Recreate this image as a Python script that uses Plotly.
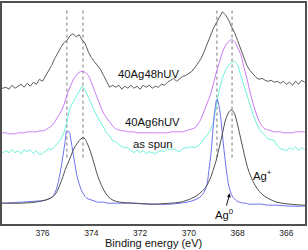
import plotly.graph_objects as go

# ---------------- data ----------------
energy_grid = [377.75, 377.625, 377.5, 377.375, 377.25, 377.125, 377.0, 376.875, 376.75, 376.625,
               376.5, 376.375, 376.25, 376.125, 376.0, 375.875, 375.75, 375.625, 375.5, 375.375,
               375.25, 375.125, 375.0, 374.875, 374.75, 374.625, 374.5, 374.375, 374.25, 374.125,
               374.0, 373.875, 373.75, 373.625, 373.5, 373.375, 373.25, 373.125, 373.0, 372.875,
               372.75, 372.625, 372.5, 372.375, 372.25, 372.125, 372.0, 371.875, 371.75, 371.625,
               371.5, 371.375, 371.25, 371.125, 371.0, 370.875, 370.75, 370.625, 370.5, 370.375,
               370.25, 370.125, 370.0, 369.875, 369.75, 369.625, 369.5, 369.375, 369.25, 369.125,
               369.0, 368.875, 368.75, 368.625, 368.5, 368.375, 368.25, 368.125, 368.0, 367.875,
               367.75, 367.625, 367.5, 367.375, 367.25, 367.125, 367.0, 366.875, 366.75, 366.625,
               366.5, 366.375, 366.25, 366.125, 366.0, 365.875, 365.75, 365.625, 365.5, 365.375,
               365.25]

uv48h = [137, 137, 138, 136, 140, 137, 139, 141, 138, 142, 139,
         143, 141, 146, 144, 149, 154, 160, 167, 173, 178,
         183, 185, 190, 192, 189, 191, 186, 182, 174, 168,
         164, 160, 156, 150, 144, 138, 140, 138, 140, 136,
         139, 137, 140, 137, 139, 136, 140, 138, 140, 137,
         139, 138, 141, 140, 143, 145, 147, 144, 147, 149,
         150, 152, 154, 158, 163, 167, 174, 182, 189, 197,
         203, 209, 214, 211, 206, 199, 193, 185, 177, 168,
         160, 155, 151, 148, 146, 147, 145, 144, 145, 143,
         144, 142, 144, 141, 143, 140, 144, 141, 145, 143]

uv6h = [92, 92, 92, 91, 91, 91, 92, 92, 92, 93, 93,
        93, 93, 94, 94, 95, 97, 99, 103, 108, 113,
        120, 130, 138, 145, 150, 153, 154, 153, 150, 143,
        135, 127, 119, 112, 107, 103, 99, 96, 95, 94,
        94, 93, 93, 93, 92, 92, 92, 92, 92, 92,
        92, 92, 92, 92, 92, 93, 93, 93, 93, 93,
        94, 95, 96, 97, 101, 106, 114, 122, 130, 141,
        153, 163, 173, 180, 184, 186, 184, 178, 171, 159,
        147, 134, 122, 112, 104, 99, 96, 95, 94, 93,
        93, 93, 92, 92, 92, 92, 93, 93, 93, 93]

as_spun = [72, 72, 74, 72, 75, 72, 74, 71, 75, 73, 75,
           71, 74, 70, 71, 74, 76, 75, 78, 81, 85,
           92, 103, 117, 123, 129, 134, 139, 135, 128, 121,
           114, 108, 103, 98, 92, 89, 84, 83, 80, 78,
           77, 77, 74, 72, 75, 72, 74, 71, 73, 72,
           71, 73, 74, 73, 76, 75, 76, 74, 73, 76,
           77, 77, 78, 77, 79, 82, 86, 90, 94, 102,
           120, 136, 147, 155, 160, 163, 164, 161, 150, 140,
           131, 121, 111, 103, 96, 92, 89, 86, 85, 84,
           79, 76, 75, 74, 77, 75, 78, 74, 77, 75]

energy_ref = [377.78, 377.66, 376.92, 376.31, 375.90, 375.61, 375.45, 375.28, 375.16, 375.08, 375.00,
              374.91, 374.83, 374.75, 374.67, 374.59, 374.50, 374.42, 374.34, 374.26, 374.18,
              374.09, 373.97, 373.85, 373.73, 373.60, 373.48, 373.32, 373.11, 372.82, 372.29,
              371.47, 370.77, 370.36, 370.08, 369.79, 369.55, 369.38, 369.26, 369.18, 369.09,
              369.01, 368.93, 368.85, 368.77, 368.68, 368.60, 368.52, 368.44, 368.36, 368.27,
              368.19, 368.11, 368.03, 367.91, 367.78, 367.66, 367.54, 367.37, 367.21, 367.00,
              366.76, 366.39, 365.86, 365.24, 365.10]

ag_plus = [21, 21, 21, 22, 24, 27, 31, 40, 48, 54, 59,
           64, 69, 74, 78, 81, 84, 86, 87, 86, 82,
           77, 68, 58, 48, 40, 34, 28, 24, 22, 21,
           20, 21, 22, 24, 27, 31, 35, 39, 43, 48,
           54, 60, 67, 76, 85, 94, 103, 109, 113, 115,
           114, 110, 103, 90, 76, 63, 53, 43, 36, 30,
           26, 22, 20, 19, 19]

ag_zero = [21, 21, 22, 23, 24, 27, 34, 51, 69, 82, 94,
           93, 84, 72, 60, 49, 41, 35, 31, 28, 26,
           25, 24, 23, 22, 22, 22, 21, 21, 21, 21,
           20, 20, 21, 22, 24, 27, 32, 40, 54, 72,
           96, 116, 126, 120, 104, 84, 66, 50, 38, 31,
           27, 25, 23, 22, 21, 21, 20, 20, 20, 20,
           19, 19, 18, 18, 18]

peak_positions = [375.00, 374.34, 368.85, 368.23]
marker_span = [67, 216]

tick_values = [376, 374, 372, 370, 368, 366]

# ---------------- figure ----------------
fig = go.Figure()

for e in peak_positions:
    fig.add_trace(go.Scatter(x=[e, e], y=marker_span, mode="lines",
                             line=dict(color="#777777", width=1, dash="dot"),
                             hoverinfo="skip", showlegend=False))

fig.add_trace(go.Scatter(x=energy_grid, y=uv48h, mode="lines",
                         line=dict(color="#5c5c5c", width=1), showlegend=False))
fig.add_trace(go.Scatter(x=energy_grid, y=uv6h, mode="lines", line_shape="spline",
                         line=dict(color="#c97cf5", width=1), showlegend=False))
fig.add_trace(go.Scatter(x=energy_grid, y=as_spun, mode="lines",
                         line=dict(color="#6ff2dc", width=1), showlegend=False))
fig.add_trace(go.Scatter(x=energy_ref, y=ag_zero, mode="lines", line_shape="spline",
                         line=dict(color="#6f72ee", width=1), showlegend=False))
fig.add_trace(go.Scatter(x=energy_ref, y=ag_plus, mode="lines", line_shape="spline",
                         line=dict(color="#505050", width=1), showlegend=False))

lab_font = dict(family="Liberation Sans, Arial, sans-serif", size=11.3, color="#111111")
fig.add_annotation(x=371.66, y=151.5, text="40Ag48hUV", showarrow=False, font=lab_font)
fig.add_annotation(x=371.51, y=103, text="40Ag6hUV", showarrow=False, font=lab_font)
fig.add_annotation(x=371.47, y=81, text="as spun", showarrow=False, font=lab_font)

fig.add_annotation(x=367.45, y=40, ax=367.0, ay=49, axref="x", ayref="y",
                   text="Ag<sup>+</sup>", showarrow=True, arrowhead=2, arrowsize=0.8,
                   arrowwidth=1, arrowcolor="#111111", font=lab_font)
fig.add_annotation(x=368.32, y=31, ax=368.56, ay=10, axref="x", ayref="y",
                   text="Ag<sup>0</sup>", showarrow=True, arrowhead=2, arrowsize=0.8,
                   arrowwidth=1, arrowcolor="#111111", font=lab_font)

fig.add_annotation(x=0.5, y=0, xref="paper", yref="paper", yanchor="middle",
                   yshift=-19, text="Binding energy (eV)", showarrow=False,
                   font=dict(family="Liberation Sans, Arial, sans-serif", size=11, color="#111111"))

fig.update_xaxes(range=[377.66, 365.24], tickvals=tick_values,
                 ticktext=[str(t) for t in tick_values], ticks="",
                 showgrid=False, zeroline=False, showline=True, mirror=True,
                 linecolor="#505050", linewidth=1.5,
                 tickfont=dict(family="Liberation Sans, Arial, sans-serif", size=8.5, color="#222222"))
fig.update_yaxes(range=[0, 223], showticklabels=False, ticks="", showgrid=False,
                 zeroline=False, showline=True, mirror=True,
                 linecolor="#505050", linewidth=1.5)

fig.update_layout(width=308, height=250, margin=dict(l=2, r=3, t=1, b=26),
                  paper_bgcolor="white", plot_bgcolor="white")

fig.write_html("out.html", config={"displayModeBar": False},
               post_script="document.body.style.margin='0';document.body.style.padding='0';document.body.style.overflow='hidden';")
